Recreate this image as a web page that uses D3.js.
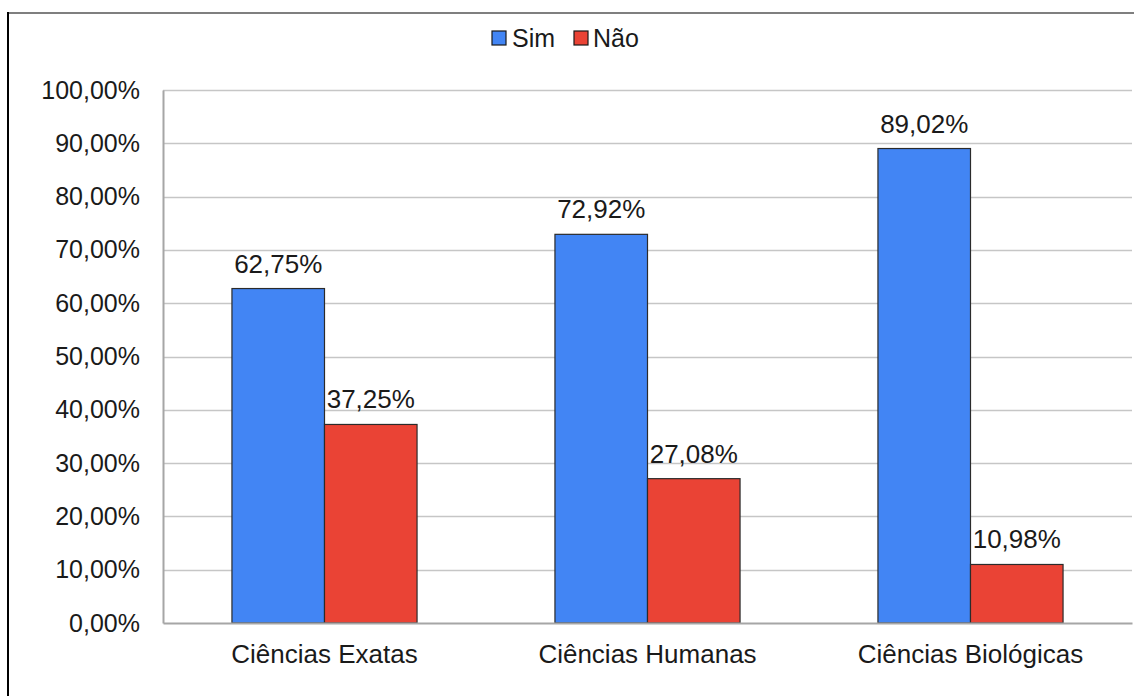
<!DOCTYPE html>
<html>
<head>
<meta charset="utf-8">
<script src="https://cdn.jsdelivr.net/npm/d3@7"></script>
<style>
  html, body { margin: 0; padding: 0; background: #fff; }
  svg { display: block; font-family: "Liberation Sans", Arial, sans-serif; }
</style>
</head>
<body>
<svg id="chart" width="1134" height="696"></svg>
<script>
// Share of answers per knowledge area
const categories = ["Ciências Exatas", "Ciências Humanas", "Ciências Biológicas"];
const seriesNames = ["Sim", "Não"];
const simValues = [62.75, 72.92, 89.02];
const naoValues = [37.25, 27.08, 10.98];
const yTicks = [0, 10, 20, 30, 40, 50, 60, 70, 80, 90, 100];

const colors = { "Sim": "#4285f4", "Não": "#ea4335" };

const W = 1134, H = 696;
const plot = { left: 163, right: 1132, top: 90, bottom: 623 };

const svg = d3.select("#chart");

const fmt = v => v.toFixed(2).replace(".", ",") + "%";

const x0 = d3.scaleBand()
  .domain(categories)
  .range([plot.left, plot.right])
  .paddingInner(0)
  .paddingOuter(0);

const x1 = d3.scaleBand()
  .domain(seriesNames)
  .range([0, x0.bandwidth()])
  .paddingInner(0)
  .paddingOuter(0.745);

const y = d3.scaleLinear().domain([0, 100]).range([plot.bottom, plot.top]);

// outer frame: grey top edge, black left edge
svg.append("line")
  .attr("x1", 8).attr("x2", W).attr("y1", 13).attr("y2", 13)
  .attr("stroke", "#7f7f7f").attr("stroke-width", 2);
svg.append("line")
  .attr("x1", 8).attr("x2", 8).attr("y1", 12).attr("y2", H)
  .attr("stroke", "#000").attr("stroke-width", 2);

// horizontal gridlines
svg.append("g")
  .selectAll("line")
  .data(yTicks.filter(t => t > 0))
  .join("line")
  .attr("x1", plot.left).attr("x2", plot.right)
  .attr("y1", d => Math.round(y(d)) + 0.5)
  .attr("y2", d => Math.round(y(d)) + 0.5)
  .attr("stroke", "#c6c6c6").attr("stroke-width", 1.5);

// y axis
const yAxis = svg.append("g")
  .attr("transform", `translate(${plot.left},0)`)
  .call(d3.axisLeft(y).tickValues(yTicks).tickFormat(fmt).tickSize(0).tickPadding(23));
yAxis.select(".domain").attr("stroke", "#a6a6a6").attr("stroke-width", 2);
yAxis.selectAll("text")
  .attr("font-size", 25)
  .attr("fill", "#1a1a1a")
  .attr("font-family", "'Liberation Sans', Arial, sans-serif");

// bars
const rows = categories.map((c, i) => ({ cat: c, vals: [
  { key: "Sim", value: simValues[i] },
  { key: "Não", value: naoValues[i] }
]}));

const groups = svg.append("g")
  .selectAll("g")
  .data(rows)
  .join("g")
  .attr("transform", d => `translate(${x0(d.cat)},0)`);

groups.selectAll("rect")
  .data(d => d.vals)
  .join("rect")
  .attr("x", d => x1(d.key))
  .attr("y", d => y(d.value))
  .attr("width", x1.bandwidth())
  .attr("height", d => y(0) - y(d.value))
  .attr("fill", d => colors[d.key])
  .attr("stroke", "#2b2b2b")
  .attr("stroke-width", 1.2);

groups.selectAll("text")
  .data(d => d.vals)
  .join("text")
  .attr("x", d => x1(d.key) + x1.bandwidth() / 2)
  .attr("y", d => y(d.value) - 16)
  .attr("text-anchor", "middle")
  .attr("font-size", 26)
  .attr("fill", "#1a1a1a")
  .text(d => fmt(d.value));

// x axis
const xAxis = svg.append("g")
  .attr("transform", `translate(0,${plot.bottom})`)
  .call(d3.axisBottom(x0).tickSize(0).tickPadding(22));
xAxis.select(".domain").attr("stroke", "#a6a6a6").attr("stroke-width", 2);
xAxis.selectAll("text")
  .attr("font-size", 26)
  .attr("fill", "#1a1a1a")
  .attr("font-family", "'Liberation Sans', Arial, sans-serif");

// legend
const legendItems = [
  { key: "Sim", sx: 492, tx: 512 },
  { key: "Não", sx: 574, tx: 593 }
];
const legend = svg.append("g");
legend.selectAll("rect")
  .data(legendItems)
  .join("rect")
  .attr("x", d => d.sx).attr("y", 31)
  .attr("width", 14).attr("height", 14)
  .attr("fill", d => colors[d.key])
  .attr("stroke", "#1a1a1a").attr("stroke-width", 1.2);
legend.selectAll("text")
  .data(legendItems)
  .join("text")
  .attr("x", d => d.tx).attr("y", 47)
  .attr("font-size", 25)
  .attr("fill", "#1a1a1a")
  .text(d => d.key);
</script>
</body>
</html>
